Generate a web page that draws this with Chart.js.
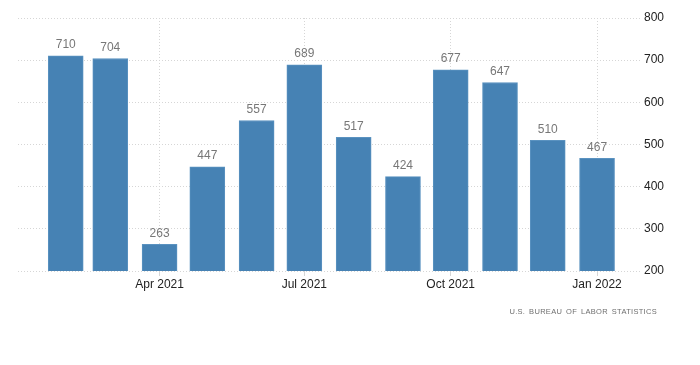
<!DOCTYPE html>
<html>
<head>
<meta charset="utf-8">
<script src="https://cdn.jsdelivr.net/npm/chart.js@4.4.1/dist/chart.umd.min.js"></script>
<style>
  html, body { margin: 0; padding: 0; background: #fff; }
  #wrap { position: relative; width: 700px; height: 365px; }
  #source {
    position: absolute; right: 43px; top: 307px;
    font: 7.5px "Liberation Sans", Arial, sans-serif;
    letter-spacing: 0.3px; word-spacing: 1.5px; color: #6f6f6f;
  }
</style>
</head>
<body>
<div id="wrap">
  <canvas id="chart" width="700" height="365"></canvas>
  <div id="source">U.S. BUREAU OF LABOR STATISTICS</div>
</div>
<script>
// one bar per month, Jan 2021 - Dec 2021 (placed at start of following month)
const dates = ['2021-02-01', '2021-03-01', '2021-04-01', '2021-05-01', '2021-06-01', '2021-07-01',
  '2021-08-01', '2021-09-01', '2021-10-01', '2021-11-01', '2021-12-01', '2022-01-01']
const values = [710, 704, 263, 447, 557, 689, 517, 424, 677, 647, 510, 467]

const tickDates = ['2021-04-01', '2021-07-01', '2021-10-01', '2022-01-01']
const tickLabels = ['Apr 2021', 'Jul 2021', 'Oct 2021', 'Jan 2022']
const yTicks = [200, 300, 400, 500, 600, 700, 800]

const day = (s) => {
  const [y, m, d] = s.split('-').map(Number)
  return Date.UTC(y, m - 1, d) / 86400000
}
const tickDays = tickDates.map(day)

const font = '"Liberation Sans", Arial, sans-serif'

const barLabels = {
  id: 'barLabels',
  afterDatasetsDraw(chart) {
    const ctx = chart.ctx
    const meta = chart.getDatasetMeta(0)
    ctx.save()
    ctx.font = '12px ' + font
    ctx.fillStyle = '#777'
    ctx.textAlign = 'center'
    ctx.textBaseline = 'bottom'
    meta.data.forEach((bar, i) => {
      ctx.fillText(values[i], bar.x, bar.y - 5)
    })
    ctx.restore()
  }
}

const chart = new Chart(document.getElementById('chart'), {
  type: 'bar',
  data: {
    datasets: [{
      data: dates.map((d, i) => ({ x: day(d), y: values[i] })),
      backgroundColor: '#4682b4',
      borderColor: '#5a92c0',
      borderWidth: 1,
      barThickness: 35
    }]
  },
  plugins: [barLabels],
  options: {
    responsive: false,
    animation: false,
    layout: { padding: { left: 18, top: 18, right: 0, bottom: 74 } },
    plugins: {
      legend: { display: false },
      tooltip: { enabled: false }
    },
    scales: {
      x: {
        type: 'linear',
        offset: false,
        min: day('2021-01-02'),
        max: day('2022-01-28'),
        afterBuildTicks: (s) => { s.ticks = tickDays.map(v => ({ value: v })) },
        afterFit: (s) => { s.height = 20 },
        ticks: {
          autoSkip: false,
          maxRotation: 0,
          padding: 1,
          color: '#222',
          font: { family: font, size: 12 },
          callback: (v) => tickLabels[tickDays.indexOf(v)]
        },
        grid: { offset: false, color: '#d6d6d6', tickLength: 5 },
        border: { display: false, dash: [1, 2] }
      },
      y: {
        position: 'right',
        min: 200,
        max: 800,
        afterBuildTicks: (s) => { s.ticks = yTicks.map(v => ({ value: v })) },
        afterFit: (s) => { s.width = 60 },
        ticks: {
          padding: 4,
          color: '#222',
          font: { family: font, size: 12 }
        },
        grid: { color: '#d6d6d6', drawTicks: false },
        border: { display: false, dash: [1, 2] }
      }
    }
  }
})
</script>
</body>
</html>
